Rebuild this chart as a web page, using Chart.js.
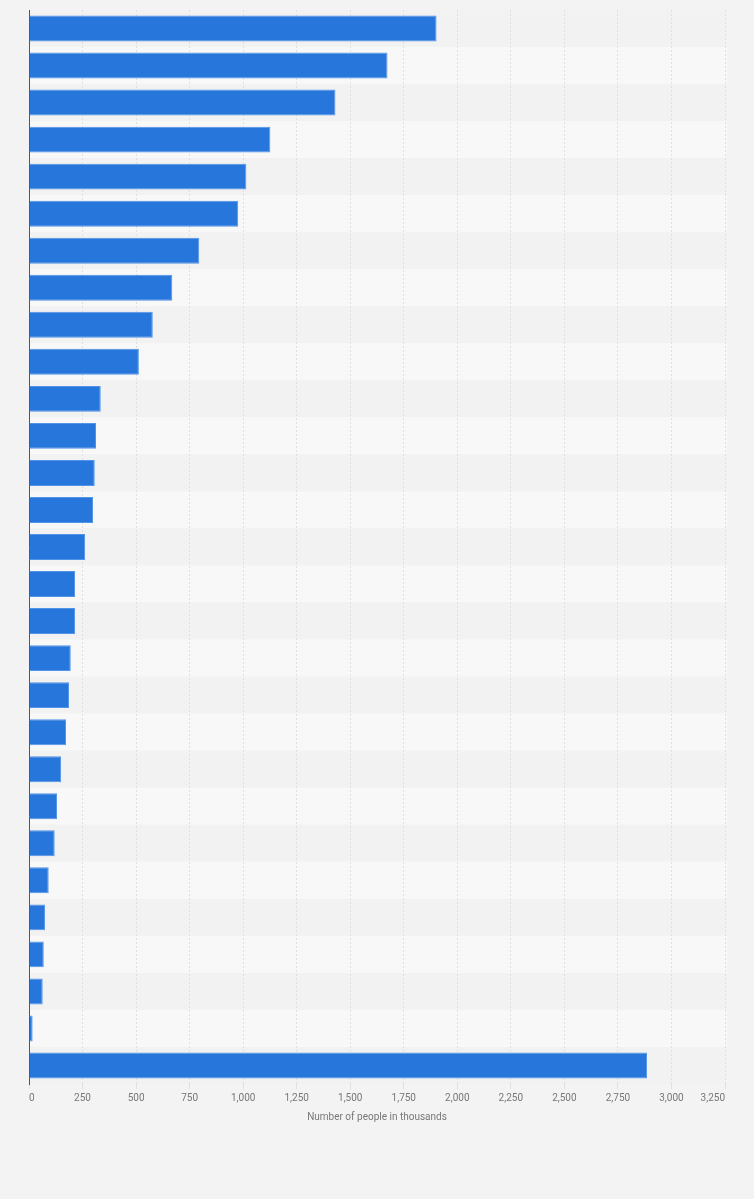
<!DOCTYPE html>
<html>
<head>
<meta charset="utf-8">
<script src="https://cdn.jsdelivr.net/npm/chart.js@4"></script>
<style>
  html, body { margin: 0; padding: 0; background: #f3f3f3; }
  #wrap { width: 754px; height: 1199px; position: relative; }
</style>
</head>
<body>
<div id="wrap"><canvas id="chart"></canvas></div>
<script>
// rows have no visible names in the picture, only their order
const rows = Array.from(new Array(29), (x, i) => String(i + 1));
const people = [
  1903, 1674, 1431, 1127, 1015, 977, 795, 669, 578, 513,
  335, 313, 307, 299, 262, 215, 215, 195, 187, 173,
  150, 131, 120, 92, 75, 69, 64, 17, 2886
];
const xTicks = [0, 250, 500, 750, 1000, 1250, 1500, 1750, 2000, 2250, 2500, 2750, 3000, 3250];
const axisTitle = "Number of people in thousands";

// alternating row bands behind the bars
const stripes = {
  id: "stripes",
  beforeDraw(c) {
    const ctx = c.ctx;
    const area = c.chartArea;
    const y = c.scales.y;
    const half = (y.getPixelForValue(1) - y.getPixelForValue(0)) / 2;
    ctx.save();
    for (let i = 0; i < rows.length; ++i) {
      ctx.fillStyle = i % 2 == 0 ? "#f2f2f2" : "#f8f8f8";
      const mid = y.getPixelForValue(i);
      ctx.fillRect(area.left, mid - half, area.right - area.left + 2, half * 2);
    }
    ctx.restore();
  },
};

Chart.defaults.font.family = "Roboto, 'Liberation Sans', sans-serif";
Chart.defaults.animation = false;

new Chart(document.getElementById("chart").getContext("2d"), {
  type: "bar",
  data: {
    labels: rows,
    datasets: [
      {
        data: people,
        backgroundColor: "#2776db",
        borderColor: "#5294e6",
        borderWidth: 1,
        barPercentage: 0.7,
        categoryPercentage: 1,
      },
    ],
  },
  options: {
    indexAxis: "y",
    maintainAspectRatio: false,
    responsive: true,
    layout: { padding: { left: 21, right: 29, top: 10, bottom: 72 } },
    plugins: { legend: { display: false }, tooltip: { enabled: false } },
    scales: {
      x: {
        min: 0,
        max: 3250,
        afterBuildTicks(axis) {
          axis.ticks = xTicks.map((v) => ({ value: v }));
        },
        grid: { color: "#e0e0e0", tickLength: 5, drawTicks: true },
        border: { display: false, dash: [2, 2] },
        ticks: {
          color: "#777",
          font: { size: 10 },
          padding: 3,
          align: "inner",
          maxRotation: 0,
          callback: (v) => v.toLocaleString("en-US"),
        },
        title: {
          display: true,
          text: axisTitle,
          color: "#777",
          font: { size: 10 },
          padding: { top: 4, bottom: 4 },
        },
      },
      y: {
        grid: { display: false },
        border: { display: true, color: "#555", width: 1 },
        ticks: { display: false },
      },
    },
  },
  plugins: [stripes],
});
</script>
</body>
</html>
